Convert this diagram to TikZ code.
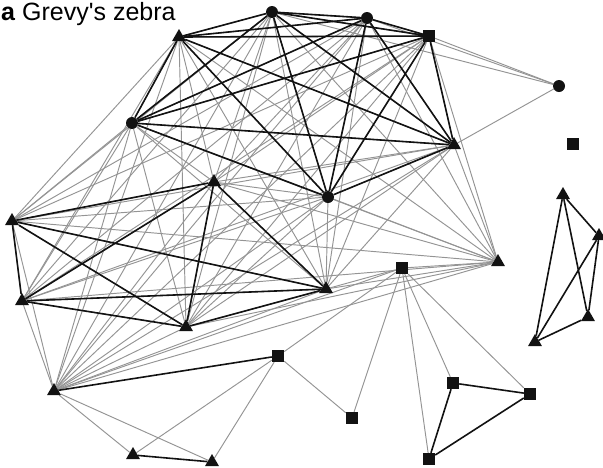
\documentclass[tikz,border=0pt]{standalone}
\usepackage{fontspec}
\setmainfont{Liberation Sans}
\usetikzlibrary{shapes.geometric,backgrounds}
\newcommand{\myclique}[2]{%
  \foreach \a [count=\i] in {#2}{%
    \foreach \b [count=\j] in {#2}{%
      \ifnum\j>\i \draw[#1] (\a) -- (\b);\fi
    }%
  }%
}
\begin{document}
\begin{tikzpicture}[x=1pt,y=-1pt,
  circ/.style={circle,fill=black!93,inner sep=0pt,minimum size=12pt},
  sq/.style={rectangle,fill=black!93,inner sep=0pt,minimum size=12pt},
  tri/.style={regular polygon,regular polygon sides=3,fill=black!93,inner sep=0pt,minimum size=16pt},
  weak/.style={draw=black!42,line width=0.95pt},
  strong/.style={draw=black!93,line width=1.6pt}]
\useasboundingbox (0,0) rectangle (603,467);
\node[anchor=base west,inner sep=0pt,font=\fontsize{25}{25}\selectfont] (title) at (1,20.5) {\textbf{a} Grevy\textquotesingle s zebra};
% nodes
\node[circ] (C1) at (272,12) {};
\node[circ] (C2) at (367,18) {};
\node[sq]   (S1) at (429,36) {};
\node[tri]  (T1) at (179,37) {};
\node[circ] (C3) at (559,86) {};
\node[circ] (C4) at (132,123) {};
\node[tri]  (T2) at (454,145) {};
\node[sq]   (S2) at (573,144) {};
\node[tri]  (T3) at (214,182) {};
\node[circ] (C5) at (328,197) {};
\node[tri]  (T4) at (563,195) {};
\node[tri]  (T5) at (12,221) {};
\node[tri]  (T6) at (599,236) {};
\node[tri]  (T7) at (498,262) {};
\node[sq]   (S3) at (402,268) {};
\node[tri]  (T8) at (22,301) {};
\node[tri]  (T9) at (326,289) {};
\node[tri]  (T10) at (588,317) {};
\node[tri]  (T11) at (186,327) {};
\node[tri]  (T12) at (535,342) {};
\node[sq]   (S4) at (278,356) {};
\node[tri]  (T13) at (54,391) {};
\node[sq]   (S5) at (453,383) {};
\node[sq]   (S6) at (530,394) {};
\node[sq]   (S7) at (352,418) {};
\node[tri]  (T14) at (133,455) {};
\node[sq]   (S8) at (429,459) {};
\node[tri]  (T15) at (212,462) {};
\begin{scope}[on background layer]
  % weak ties
  \myclique{weak}{C1,C2,S1,T1,C4,T2,C5,T3,T5,T8,T11,T9,T7,T13}
  \foreach \b in {C1,C2,S1,T2} \draw[weak] (C3) -- (\b);
  \foreach \b in {T7,T9,T13,S4,S5,S6,S7,S8} \draw[weak] (S3) -- (\b);
  \foreach \b in {S7,T14,T15} \draw[weak] (S4) -- (\b);
  \foreach \b in {T14,T15} \draw[weak] (T13) -- (\b);
  % strong ties
  \myclique{strong}{C1,C2,S1,T1,C4,T2,C5}
  \myclique{strong}{T3,T5,T8,T11,T9}
  \myclique{strong}{T4,T6,T10,T12}
  \myclique{strong}{S5,S6,S8}
  \draw[strong] (S4) -- (T13);
  \draw[strong] (T14) -- (T15);
\end{scope}
\end{tikzpicture}
\end{document}
